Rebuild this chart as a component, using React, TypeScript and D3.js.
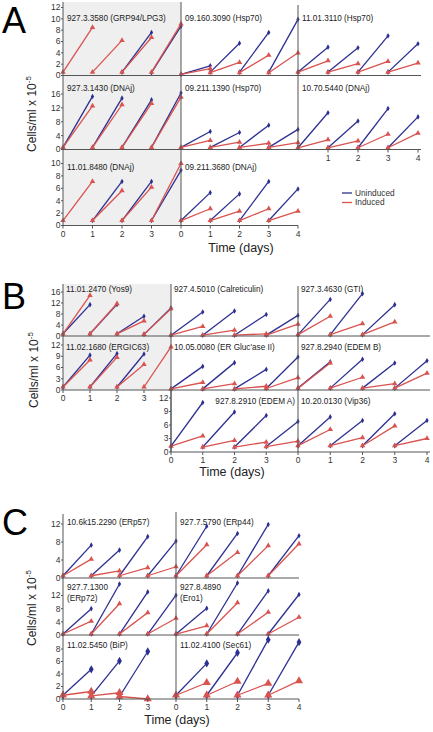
import React from 'react';
import * as d3 from 'd3';

type Seg = [number, number] | null;

// ---------------- Panel A data (cells/ml x 10^-5, [start, end] per day segment) ----------------
const grp94Un: Seg[] = [null, null, [0.6, 7.6], [0.5, 8.7]];
const grp94In: Seg[] = [[0.6, 8.5], [0.6, 6.2], [0.6, 6.7], [0.6, 9.1]];
const hsp70aUn: Seg[] = [[0.2, 1.7], [0.6, 5.7], [0.6, 7.6], [0.6, 9.9]];
const hsp70aIn: Seg[] = [[0.2, 1.2], [0.5, 2.3], [0.5, 3.6], [0.5, 4.0]];
const hsp70bUn: Seg[] = [[0.6, 5.0], [0.6, 4.9], [0.6, 7.0], [0.6, 5.6]];
const hsp70bIn: Seg[] = [[0.6, 2.6], [0.6, 2.1], [0.6, 2.5], [0.6, 2.2]];
const dnaj1Un: Seg[] = [[0.6, 15.3], [0.6, 14.8], [0.6, 14.3], [0.6, 16.3]];
const dnaj1In: Seg[] = [[0.6, 12.6], [0.6, 12.9], [0.6, 13.3], [0.6, 15.1]];
const hsp70cUn: Seg[] = [[0.6, 5.2], [0.6, 4.9], [0.6, 7.0], [0.6, 5.8]];
const hsp70cIn: Seg[] = [[0.6, 2.6], [0.6, 2.1], [0.6, 1.8], [0.6, 2.0]];
const dnaj2Un: Seg[] = [[0.5, 10.6], [0.5, 8.2], [0.5, 11.8], [0.5, 9.4]];
const dnaj2In: Seg[] = [[0.5, 2.8], [0.5, 2.5], [0.5, 4.4], [0.5, 4.7]];
const dnaj3Un: Seg[] = [null, [0.8, 7.1], [0.8, 7.1], [0.8, 8.9]];
const dnaj3In: Seg[] = [[0.8, 7.1], [0.8, 5.6], [0.8, 6.2], [0.8, 10.0]];
const dnaj4Un: Seg[] = [[0.8, 5.3], [0.8, 5.1], [0.8, 7.1], [0.8, 5.9]];
const dnaj4In: Seg[] = [[0.8, 2.7], [0.8, 2.3], [0.8, 2.7], [0.8, 2.3]];

// ---------------- Panel B data ----------------
const yos9Un: Seg[] = [[0.8, 11.4], [0.8, 11.5], [0.8, 7.2], [0.6, 10.2]];
const yos9In: Seg[] = [[0.8, 14.8], [0.8, 11.8], [0.8, 5.5], [0.6, 9.9]];
const calrUn: Seg[] = [[0.3, 8.7], [0.3, 9.1], [0.3, 7.8], [0.3, 7.5]];
const calrIn: Seg[] = [[0.3, 3.5], [0.3, 2.1], [0.3, 0.8], [0.3, 4.3]];
const gtiUn: Seg[] = [[0.5, 13.3], [0.5, 15.4], [0.5, 11.4]];
const gtiIn: Seg[] = [[0.5, 7.2], [0.5, 4.5], [0.5, 5.1]];
const ergicUn: Seg[] = [[0.8, 9.3], [0.8, 9.7], [0.8, 9.6], null];
const ergicIn: Seg[] = [[0.8, 8.0], [0.8, 8.7], [0.8, 6.8], [0.8, 11.5]];
const glucUn: Seg[] = [[0.3, 6.3], [0.3, 7.3], [0.3, 5.5], [0.4, 8.8]];
const glucIn: Seg[] = [[0.3, 2.0], [0.3, 1.7], [0.3, 1.0], [0.4, 3.3]];
const edemBUn: Seg[] = [[0.5, 7.5], [0.5, 8.2], [0.5, 7.2], [0.5, 7.8]];
const edemBIn: Seg[] = [[0.5, 7.2], [0.5, 3.4], [0.5, 1.7], [0.5, 4.5]];
const edemAUn: Seg[] = [[1.3, 11.0], [1.1, 8.9], [1.1, 8.1], [1.2, 6.8]];
const edemAIn: Seg[] = [[1.3, 3.6], [1.1, 2.6], [1.1, 2.2], [1.2, 2.4]];
const vip36Un: Seg[] = [[1.4, 7.8], [1.4, 7.0], [1.4, 8.5], [1.4, 7.0]];
const vip36In: Seg[] = [[1.4, 5.0], [1.4, 3.2], [1.4, 5.8], [1.4, 3.0]];

// ---------------- Panel C data ----------------
const erp57Un: Seg[] = [[0.5, 7.3], [0.5, 6.2], [0.5, 9.2], [0.5, 8.2]];
const erp57In: Seg[] = [[0.5, 4.2], [0.5, 1.6], [0.5, 2.3], [0.5, 2.5]];
const erp44Un: Seg[] = [[0.5, 11.5], [0.5, 9.9], [0.5, 11.9], [0.5, 9.4]];
const erp44In: Seg[] = [[0.5, 7.4], [0.5, 5.7], [0.5, 7.2], [0.5, 7.6]];
const erp72Un: Seg[] = [[0.3, 8.0], [0.3, 15.5], [0.3, 13.1], [0.3, 12.1]];
const erp72In: Seg[] = [[0.3, 4.2], [0.3, 9.5], [0.3, 6.8], [0.3, 5.1]];
const ero1Un: Seg[] = [[0.3, 8.1], [0.3, 15.8], [0.3, 13.4], [0.3, 12.3]];
const ero1In: Seg[] = [[0.3, 2.8], [0.3, 9.8], [0.3, 6.9], [0.3, 5.4]];
const bipUn: Seg[] = [[0.6, 4.75], [0.5, 6.1], [0.4, 7.6]];
const bipIn: Seg[] = [[0.6, 1.2], [0.5, 1.0], [0.4, 0.0]];
const sec61Un: Seg[] = [[0.6, 5.7], [0.6, 7.4], [0.6, 9.5], [0.6, 9.1]];
const sec61In: Seg[] = [[0.6, 2.6], [0.6, 2.8], [0.6, 2.5], [0.6, 2.9]];

// ---------------- tick labels ----------------
const yTicksA1 = [0, 2, 4, 6, 8, 10, 12];
const yTicksA2 = [0, 4, 8, 12, 16];
const yTicksA3 = [0, 2, 4, 6, 8, 10];
const yTicksB1 = [0, 4, 8, 12, 16];
const yTicksB2 = [0, 3, 6, 9, 12];
const yTicksC1 = [0, 4, 8, 12];
const yTicksC3 = [0, 2, 4, 6, 8];
const daysLeft = [0, 1, 2, 3];
const daysFull = [0, 1, 2, 3, 4];
const daysRight = [1, 2, 3, 4];
const legendLabels = ['Uninduced', 'Induced'];

const BLUE = '#2d3090';
const RED = '#d9534f';
const AXIS = '#555';
const FONT = 'Liberation Sans, Arial, Helvetica, sans-serif';

interface Row { base: number; tickMax: number; tickMaxY: number; ticks: number[]; axisX: number; titleY: number; mk?: number; }
interface Panel { r: number; c: number; title: string[]; un: Seg[]; ind: Seg[]; xt?: number[]; anchorEnd?: number; }
interface Section {
  letter: string; letterY: number; cols: [number, number][]; rows: Row[];
  gray: [number, number, number, number]; lines: [number, number, number, number][];
  yLabel: [number, number]; timeLabel: [number, number]; panels: Panel[]; titleDx: number;
}

const sections: Section[] = [
  {
    letter: 'A', letterY: 33, titleDx: 4,
    cols: [[63, 181], [181, 298], [298, 418]],
    rows: [
      { base: 75.5, tickMax: 12, tickMaxY: 7.5, ticks: yTicksA1, axisX: 63, titleY: 21 },
      { base: 149.5, tickMax: 16, tickMaxY: 94, ticks: yTicksA2, axisX: 63, titleY: 90.5 },
      { base: 225.5, tickMax: 10, tickMaxY: 163.5, ticks: yTicksA3, axisX: 63, titleY: 170 },
    ],
    gray: [63, 2, 181, 225.5],
    lines: [[63, 2, 63, 225.5], [63, 75.5, 421, 75.5], [63, 149.5, 421, 149.5], [63, 225.5, 298, 225.5],
      [181, 2, 181, 225.5], [298, 5, 298, 149.5]],
    yLabel: [36, 114], timeLabel: [241, 251.5],
    panels: [
      { r: 0, c: 0, title: ['927.3.3580 (GRP94/LPG3)'], un: grp94Un, ind: grp94In },
      { r: 0, c: 1, title: ['09.160.3090 (Hsp70)'], un: hsp70aUn, ind: hsp70aIn },
      { r: 0, c: 2, title: ['11.01.3110 (Hsp70)'], un: hsp70bUn, ind: hsp70bIn },
      { r: 1, c: 0, title: ['927.3.1430 (DNAj)'], un: dnaj1Un, ind: dnaj1In },
      { r: 1, c: 1, title: ['09.211.1390 (Hsp70)'], un: hsp70cUn, ind: hsp70cIn },
      { r: 1, c: 2, title: ['10.70.5440 (DNAj)'], un: dnaj2Un, ind: dnaj2In, xt: daysRight },
      { r: 2, c: 0, title: ['11.01.8480 (DNAj)'], un: dnaj3Un, ind: dnaj3In, xt: daysLeft },
      { r: 2, c: 1, title: ['09.211.3680 (DNAj)'], un: dnaj4Un, ind: dnaj4In, xt: daysFull },
    ],
  },
  {
    letter: 'B', letterY: 309, titleDx: 3,
    cols: [[63, 171], [171, 298], [298, 427]],
    rows: [
      { base: 336, tickMax: 16, tickMaxY: 292, ticks: yTicksB1, axisX: 63, titleY: 292 },
      { base: 390, tickMax: 12, tickMaxY: 345, ticks: yTicksB2, axisX: 63, titleY: 350 },
      { base: 452, tickMax: 12, tickMaxY: 398, ticks: yTicksB2, axisX: 171, titleY: 404 },
    ],
    gray: [63, 284, 171, 390],
    lines: [[63, 284, 63, 390], [171, 390, 171, 452], [63, 336, 430, 336], [63, 390, 430, 390], [171, 452, 430, 452],
      [171, 284, 171, 452], [298, 286, 298, 452]],
    yLabel: [38, 370], timeLabel: [232, 476],
    panels: [
      { r: 0, c: 0, title: ['11.01.2470 (Yos9)'], un: yos9Un, ind: yos9In },
      { r: 0, c: 1, title: ['927.4.5010 (Calreticulin)'], un: calrUn, ind: calrIn },
      { r: 0, c: 2, title: ['927.3.4630 (GTI)'], un: gtiUn, ind: gtiIn },
      { r: 1, c: 0, title: ['11.02.1680 (ERGIC63)'], un: ergicUn, ind: ergicIn, xt: daysLeft },
      { r: 1, c: 1, title: ["10.05.0080 (ER Gluc'ase II)"], un: glucUn, ind: glucIn },
      { r: 1, c: 2, title: ['927.8.2940 (EDEM B)'], un: edemBUn, ind: edemBIn },
      { r: 2, c: 1, title: ['927.8.2910 (EDEM A)'], un: edemAUn, ind: edemAIn, xt: daysLeft, anchorEnd: 295 },
      { r: 2, c: 2, title: ['10.20.0130 (Vip36)'], un: vip36Un, ind: vip36In, xt: daysFull },
    ],
  },
  {
    letter: 'C', letterY: 535, titleDx: 4,
    cols: [[63, 176], [176, 299]],
    rows: [
      { base: 578, tickMax: 12, tickMaxY: 524, ticks: yTicksC1, axisX: 63, titleY: 524.5 },
      { base: 635, tickMax: 12, tickMaxY: 595.5, ticks: yTicksC1, axisX: 63, titleY: 589.5 },
      { base: 699, tickMax: 8, tickMaxY: 649, ticks: yTicksC3, axisX: 63, titleY: 648, mk: 2.2 },
    ],
    gray: [0, 0, 0, 0],
    lines: [[63, 514, 63, 699], [63, 578, 299, 578], [63, 635, 299, 635], [63, 699, 299, 699], [176, 512, 176, 699]],
    yLabel: [36, 608], timeLabel: [177, 724],
    panels: [
      { r: 0, c: 0, title: ['10.6k15.2290 (ERp57)'], un: erp57Un, ind: erp57In },
      { r: 0, c: 1, title: ['927.7.5790 (ERp44)'], un: erp44Un, ind: erp44In },
      { r: 1, c: 0, title: ['927.7.1300', '(ERp72)'], un: erp72Un, ind: erp72In },
      { r: 1, c: 1, title: ['927.8.4890', '(Ero1)'], un: ero1Un, ind: ero1In },
      { r: 2, c: 0, title: ['11.02.5450 (BiP)'], un: bipUn, ind: bipIn, xt: daysLeft },
      { r: 2, c: 1, title: ['11.02.4100 (Sec61)'], un: sec61Un, ind: sec61In, xt: daysFull },
    ],
  },
];

function Series({ segs, x, y, color, symbol, size }: { segs: Seg[]; x: any; y: any; color: string; symbol: any; size: number }) {
  const path = d3.symbol().type(symbol).size(size)() as string;
  const line = d3.line<[number, number]>().x(d => x(d[0])).y(d => y(d[1]));
  return (
    <g>
      {segs.map((s, i) => s ? (
        <g key={i}>
          <path d={line([[i, s[0]], [i + 1, s[1]]]) as string} stroke={color} strokeWidth={1.3} fill="none" />
          <path d={path} transform={`translate(${x(i)},${y(s[0])})`} fill={color} />
          <path d={path} transform={`translate(${x(i + 1)},${y(s[1])})`} fill={color} />
        </g>
      ) : null)}
    </g>
  );
}

function SectionView({ s }: { s: Section }) {
  const yScales = s.rows.map(r => d3.scaleLinear().domain([0, r.tickMax]).range([r.base, r.tickMaxY]));
  const usedRowsAxes = s.rows.map((r, i) => ({ r, y: yScales[i] }));
  return (
    <g>
      {s.gray[2] > 0 && <rect x={s.gray[0]} y={s.gray[1]} width={s.gray[2] - s.gray[0]} height={s.gray[3] - s.gray[1]} fill="#efefef" />}
      <text x={2} y={s.letterY} fontSize={36} fontFamily={FONT}>{s.letter}</text>
      {s.panels.map((p, k) => {
        const row = s.rows[p.r];
        const x = d3.scaleLinear().domain([0, 4]).range(s.cols[p.c]);
        const y = yScales[p.r];
        const mk = row.mk || 1;
        return (
          <g key={k}>
            {p.title.map((t, j) => (
              <text key={j} x={p.anchorEnd ?? s.cols[p.c][0] + s.titleDx} y={row.titleY + j * 11.5}
                textAnchor={p.anchorEnd ? 'end' : 'start'} fontSize={8.2} fontFamily={FONT} fill="#222">{t}</text>
            ))}
            <Series segs={p.un} x={x} y={y} color={BLUE} symbol={d3.symbolDiamond} size={9 * mk} />
            <Series segs={p.ind} x={x} y={y} color={RED} symbol={d3.symbolTriangle} size={13 * mk} />
            {p.xt && p.xt.map(d => (
              <g key={'t' + d}>
                <line x1={x(d)} x2={x(d)} y1={row.base} y2={row.base + 3} stroke={AXIS} strokeWidth={1} />
                <text x={x(d)} y={row.base + 11} textAnchor="middle" fontSize={8.5} fontFamily={FONT} fill="#333">{d}</text>
              </g>
            ))}
          </g>
        );
      })}
      {s.lines.map((l, i) => <line key={i} x1={l[0]} y1={l[1]} x2={l[2]} y2={l[3]} stroke={AXIS} strokeWidth={1} />)}
      {usedRowsAxes.map(({ r, y }, i) => (
        <g key={'ya' + i}>
          {r.ticks.map(t => (
            <g key={t}>
              <line x1={r.axisX - 2} x2={r.axisX} y1={y(t)} y2={y(t)} stroke={AXIS} strokeWidth={1} />
              <text x={r.axisX - 2.5} y={y(t)} dy="0.35em" textAnchor="end" fontSize={8.5} fontFamily={FONT} fill="#333">{t}</text>
            </g>
          ))}
        </g>
      ))}
      <text transform={`translate(${s.yLabel[0]},${s.yLabel[1]}) rotate(-90)`} textAnchor="middle" fontSize={12} fontFamily={FONT} fill="#222">
        Cells/ml x 10<tspan fontSize={8} dy={-5}>-5</tspan>
      </text>
      <text x={s.timeLabel[0]} y={s.timeLabel[1]} textAnchor="middle" fontSize={12.5} fontFamily={FONT} fill="#222">Time (days)</text>
    </g>
  );
}

export default function App() {
  return (
    <svg width={433} height={732} style={{ position: 'absolute', left: 0, top: 0, background: '#fff' }}>
      <rect width={433} height={732} fill="#fff" />
      {sections.map(s => <SectionView key={s.letter} s={s} />)}
      {legendLabels.map((l, i) => (
        <g key={l}>
          <line x1={342} x2={352} y1={193 + i * 9.5} y2={193 + i * 9.5} stroke={i === 0 ? BLUE : RED} strokeWidth={1.3} />
          <text x={355} y={193 + i * 9.5} dy="0.35em" fontSize={8.3} fontFamily={FONT} fill="#333">{l}</text>
        </g>
      ))}
    </svg>
  );
}
